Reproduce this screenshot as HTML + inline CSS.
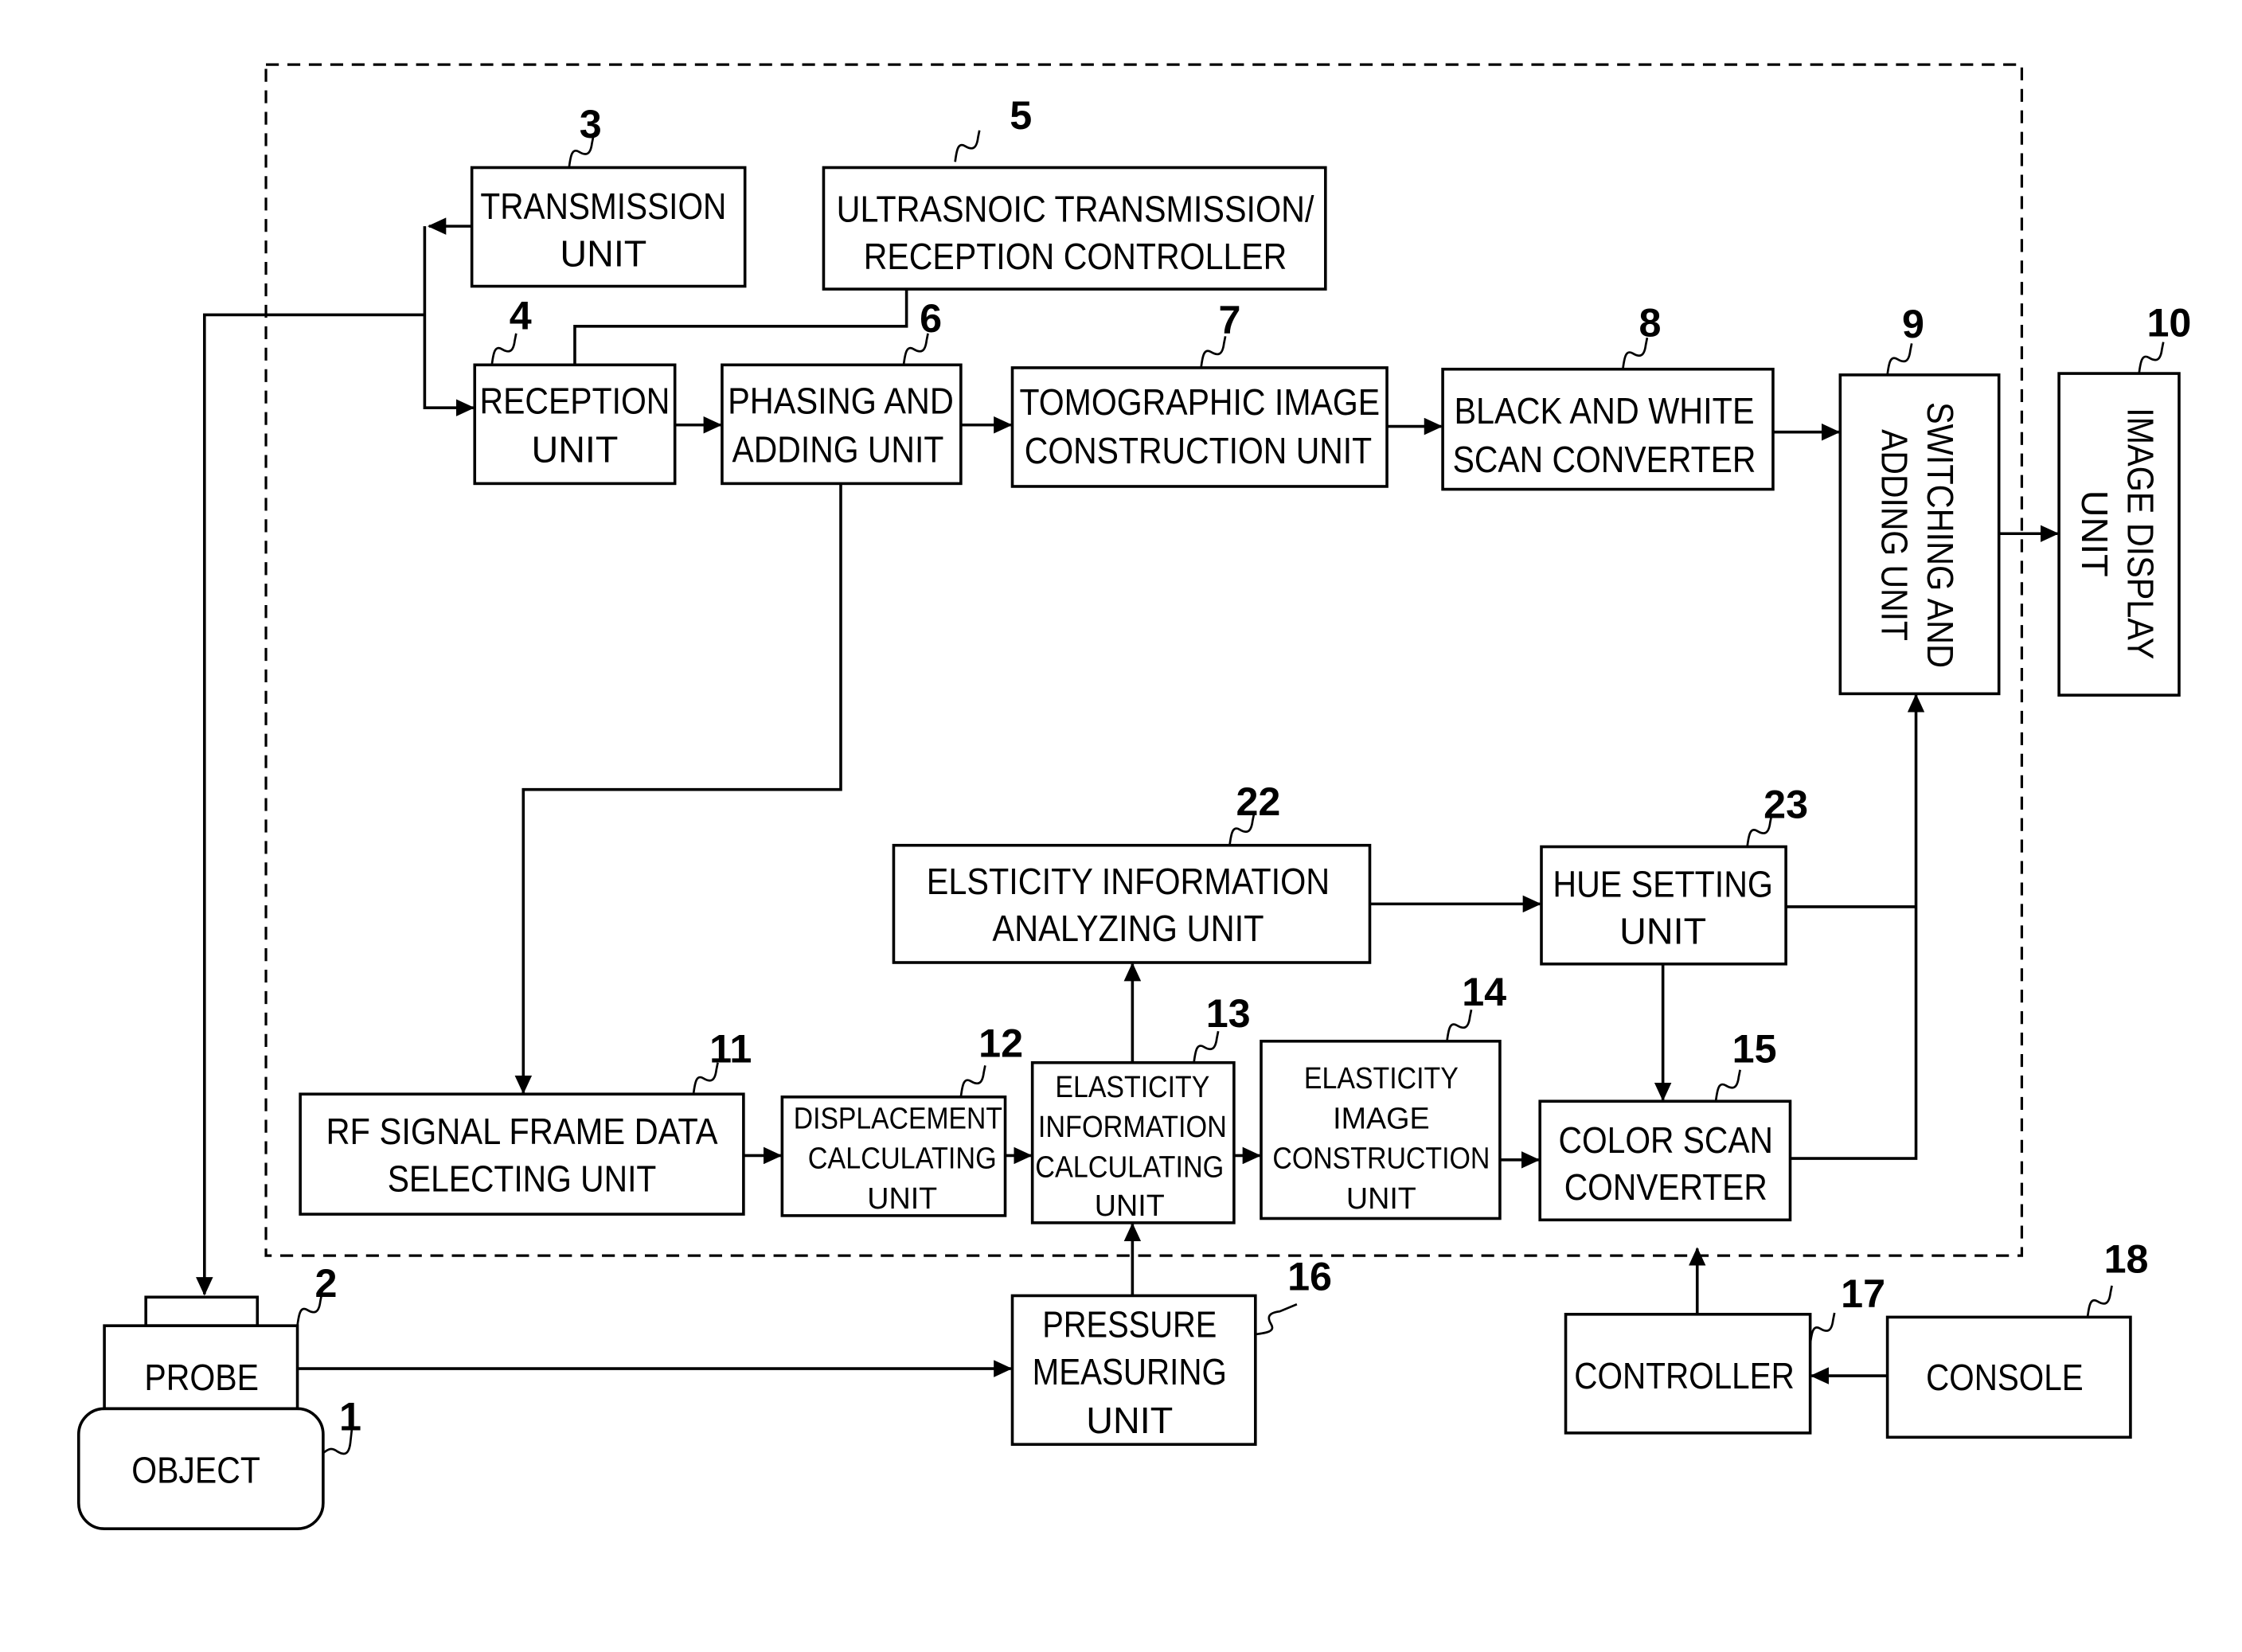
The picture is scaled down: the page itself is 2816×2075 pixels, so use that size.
<!DOCTYPE html>
<html><head><meta charset="utf-8"><style>
html,body{margin:0;padding:0;background:#fff;}
svg{display:block;}
text{font-family:"Liberation Sans",sans-serif;fill:#000;}
.l{font-size:26px;text-anchor:middle;}
.s{font-size:21px;text-anchor:middle;}
.n{font-size:28px;font-weight:bold;text-anchor:middle;}
</style></head><body>
<svg width="2816" height="2075" viewBox="0 0 1568 1155" xmlns="http://www.w3.org/2000/svg">
<defs><marker id="a" markerWidth="13" markerHeight="12" refX="12" refY="6" orient="auto" markerUnits="userSpaceOnUse"><path d="M0,0 L13,6 L0,12 z" fill="#000"/></marker></defs>
<g fill="none" stroke="#000" stroke-width="2">
<rect x="186" y="45" width="1228" height="833" stroke-dasharray="9,6" stroke-width="1.8"/>
<rect x="330" y="117" width="191" height="83"/>
<rect x="576" y="117" width="351" height="85"/>
<rect x="332" y="255" width="140" height="83"/>
<rect x="505" y="255" width="167" height="83"/>
<rect x="708" y="257" width="262" height="83"/>
<rect x="1009" y="258" width="231" height="84"/>
<rect x="1287" y="262" width="111" height="223"/>
<rect x="1440" y="261" width="84" height="225"/>
<rect x="625" y="591" width="333" height="82"/>
<rect x="1078" y="592" width="171" height="82"/>
<rect x="210" y="765" width="310" height="84"/>
<rect x="547" y="767" width="156" height="83"/>
<rect x="722" y="743" width="141" height="112"/>
<rect x="882" y="728" width="167" height="124"/>
<rect x="1077" y="770" width="175" height="83"/>
<rect x="708" y="906" width="170" height="104"/>
<rect x="1095" y="919" width="171" height="83"/>
<rect x="1320" y="921" width="170" height="84"/>
<rect x="102" y="907" width="78" height="20"/>
<rect x="73" y="927" width="135" height="58"/>
<rect x="55" y="985" width="171" height="84" rx="18"/>
<path d="M330 158 H300" marker-end="url(#a)"/>
<path d="M297 158 V285 H331" marker-end="url(#a)"/>
<path d="M297 220 H143 V905" marker-end="url(#a)"/>
<path d="M634 202 V228 H402 V255"/>
<path d="M472 297 H504" marker-end="url(#a)"/>
<path d="M672 297 H707" marker-end="url(#a)"/>
<path d="M970 298 H1008" marker-end="url(#a)"/>
<path d="M1240 302 H1286" marker-end="url(#a)"/>
<path d="M1398 373 H1439" marker-end="url(#a)"/>
<path d="M588 338 V552 H366 V764" marker-end="url(#a)"/>
<path d="M520 808 H546" marker-end="url(#a)"/>
<path d="M703 808 H721" marker-end="url(#a)"/>
<path d="M863 808 H881" marker-end="url(#a)"/>
<path d="M1049 811 H1076" marker-end="url(#a)"/>
<path d="M792 743 V674" marker-end="url(#a)"/>
<path d="M958 632 H1077" marker-end="url(#a)"/>
<path d="M1163 674 V769" marker-end="url(#a)"/>
<path d="M1249 634 H1340"/>
<path d="M1252 810 H1340 V486" marker-end="url(#a)"/>
<path d="M792 906 V856" marker-end="url(#a)"/>
<path d="M208 957 H707" marker-end="url(#a)"/>
<path d="M1187 919 V873" marker-end="url(#a)"/>
<path d="M1320 962 H1267" marker-end="url(#a)"/>
<g stroke-width="1.5">
<path d="M398 117 c1 -8 2 -14 7 -11 c5 3 8 2 9 -6 l1 -5"/>
<path d="M668 113 c1 -8 2 -14 7 -11 c5 3 8 2 9 -6 l1 -5"/>
<path d="M344 255 c1 -8 2 -14 7 -11 c5 3 8 2 9 -6 l1 -5"/>
<path d="M632 255 c1 -8 2 -14 7 -11 c5 3 8 2 9 -6 l1 -5"/>
<path d="M840 257 c1 -8 2 -14 7 -11 c5 3 8 2 9 -6 l1 -5"/>
<path d="M1135 258 c1 -8 2 -14 7 -11 c5 3 8 2 9 -6 l1 -5"/>
<path d="M1320 262 c1 -8 2 -14 7 -11 c5 3 8 2 9 -6 l1 -5"/>
<path d="M1496 261 c1 -8 2 -14 7 -11 c5 3 8 2 9 -6 l1 -5"/>
<path d="M860 591 c1 -8 2 -14 7 -11 c5 3 8 2 9 -6 l1 -5"/>
<path d="M1222 592 c1 -8 2 -14 7 -11 c5 3 8 2 9 -6 l1 -5"/>
<path d="M485 765 c1 -8 2 -14 7 -11 c5 3 8 2 9 -6 l1 -5"/>
<path d="M672 767 c1 -8 2 -14 7 -11 c5 3 8 2 9 -6 l1 -5"/>
<path d="M835 743 c1 -8 2 -14 7 -11 c5 3 8 2 9 -6 l1 -5"/>
<path d="M1012 728 c1 -8 2 -14 7 -11 c5 3 8 2 9 -6 l1 -5"/>
<path d="M1200 770 c1 -8 2 -14 7 -11 c5 3 8 2 9 -6 l1 -5"/>
<path d="M878 933 c8 -1 14 -2 11 -7 c-3 -5 -2 -8 6 -9 l12 -5"/>
<path d="M1266 940 c1 -8 2 -14 7 -11 c5 3 8 2 9 -6 l1 -5"/>
<path d="M1460 921 c1 -8 2 -14 7 -11 c5 3 8 2 9 -6 l1 -5"/>
<path d="M208 927 c1 -8 2 -14 7 -11 c5 3 8 2 9 -6 l1 -5"/>
<path d="M226 1016 c4 -3 6 -4 10 -1 c5 3 8 2 9 -6 l1 -9"/>
</g>
</g>
<text class="l" x="422" y="153" textLength="172" lengthAdjust="spacingAndGlyphs">TRANSMISSION</text>
<text class="l" x="422" y="186">UNIT</text>
<text class="l" x="752" y="155" textLength="334" lengthAdjust="spacingAndGlyphs">ULTRASNOIC TRANSMISSION/</text>
<text class="l" x="752" y="188" textLength="296" lengthAdjust="spacingAndGlyphs">RECEPTION CONTROLLER</text>
<text class="l" x="402" y="289" textLength="133" lengthAdjust="spacingAndGlyphs">RECEPTION</text>
<text class="l" x="402" y="323">UNIT</text>
<text class="l" x="588" y="289" textLength="158" lengthAdjust="spacingAndGlyphs">PHASING AND</text>
<text class="l" x="586" y="323" textLength="148" lengthAdjust="spacingAndGlyphs">ADDING UNIT</text>
<text class="l" x="839" y="290" textLength="252" lengthAdjust="spacingAndGlyphs">TOMOGRAPHIC IMAGE</text>
<text class="l" x="838" y="324" textLength="243" lengthAdjust="spacingAndGlyphs">CONSTRUCTION UNIT</text>
<text class="l" x="1122" y="296" textLength="210" lengthAdjust="spacingAndGlyphs">BLACK AND WHITE</text>
<text class="l" x="1122" y="330" textLength="212" lengthAdjust="spacingAndGlyphs">SCAN CONVERTER</text>
<g transform="translate(1342,374) rotate(90)"><text class="l" x="0" y="-6" textLength="186" lengthAdjust="spacingAndGlyphs">SWITCHING AND</text><text class="l" x="0" y="26" textLength="148" lengthAdjust="spacingAndGlyphs">ADDING UNIT</text></g>
<g transform="translate(1482,373) rotate(90)"><text class="l" x="0" y="-6" textLength="176" lengthAdjust="spacingAndGlyphs">IMAGE DISPLAY</text><text class="l" x="0" y="26">UNIT</text></g>
<text class="l" x="789" y="625" textLength="282" lengthAdjust="spacingAndGlyphs">ELSTICITY INFORMATION</text>
<text class="l" x="789" y="658" textLength="190" lengthAdjust="spacingAndGlyphs">ANALYZING UNIT</text>
<text class="l" x="1163" y="627" textLength="154" lengthAdjust="spacingAndGlyphs">HUE SETTING</text>
<text class="l" x="1163" y="660">UNIT</text>
<text class="l" x="365" y="800" textLength="274" lengthAdjust="spacingAndGlyphs">RF SIGNAL FRAME DATA</text>
<text class="l" x="365" y="833" textLength="188" lengthAdjust="spacingAndGlyphs">SELECTING UNIT</text>
<text class="s" x="628" y="789" textLength="146" lengthAdjust="spacingAndGlyphs">DISPLACEMENT</text>
<text class="s" x="631" y="817" textLength="132" lengthAdjust="spacingAndGlyphs">CALCULATING</text>
<text class="s" x="631" y="845">UNIT</text>
<text class="s" x="792" y="767" textLength="108" lengthAdjust="spacingAndGlyphs">ELASTICITY</text>
<text class="s" x="792" y="795" textLength="132" lengthAdjust="spacingAndGlyphs">INFORMATION</text>
<text class="s" x="790" y="823" textLength="132" lengthAdjust="spacingAndGlyphs">CALCULATING</text>
<text class="s" x="790" y="850">UNIT</text>
<text class="s" x="966" y="761" textLength="108" lengthAdjust="spacingAndGlyphs">ELASTICITY</text>
<text class="s" x="966" y="789">IMAGE</text>
<text class="s" x="966" y="817" textLength="152" lengthAdjust="spacingAndGlyphs">CONSTRUCTION</text>
<text class="s" x="966" y="845">UNIT</text>
<text class="l" x="1165" y="806" textLength="150" lengthAdjust="spacingAndGlyphs">COLOR SCAN</text>
<text class="l" x="1165" y="839" textLength="142" lengthAdjust="spacingAndGlyphs">CONVERTER</text>
<text class="l" x="790" y="935" textLength="122" lengthAdjust="spacingAndGlyphs">PRESSURE</text>
<text class="l" x="790" y="968" textLength="136" lengthAdjust="spacingAndGlyphs">MEASURING</text>
<text class="l" x="790" y="1002">UNIT</text>
<text class="l" x="1178" y="971" textLength="154" lengthAdjust="spacingAndGlyphs">CONTROLLER</text>
<text class="l" x="1402" y="972" textLength="110" lengthAdjust="spacingAndGlyphs">CONSOLE</text>
<text class="l" x="141" y="972" textLength="80" lengthAdjust="spacingAndGlyphs">PROBE</text>
<text class="l" x="137" y="1037" textLength="90" lengthAdjust="spacingAndGlyphs">OBJECT</text>
<text class="n" x="413" y="96">3</text>
<text class="n" x="714" y="90">5</text>
<text class="n" x="364" y="230">4</text>
<text class="n" x="651" y="232">6</text>
<text class="n" x="860" y="233">7</text>
<text class="n" x="1154" y="235">8</text>
<text class="n" x="1338" y="236">9</text>
<text class="n" x="1517" y="235">10</text>
<text class="n" x="880" y="570">22</text>
<text class="n" x="1249" y="572">23</text>
<text class="n" x="511" y="743">11</text>
<text class="n" x="700" y="739">12</text>
<text class="n" x="859" y="718">13</text>
<text class="n" x="1038" y="703">14</text>
<text class="n" x="1227" y="743">15</text>
<text class="n" x="916" y="902">16</text>
<text class="n" x="1303" y="914">17</text>
<text class="n" x="1487" y="890">18</text>
<text class="n" x="228" y="907">2</text>
<text class="n" x="245" y="1000">1</text>
</svg>
</body></html>
